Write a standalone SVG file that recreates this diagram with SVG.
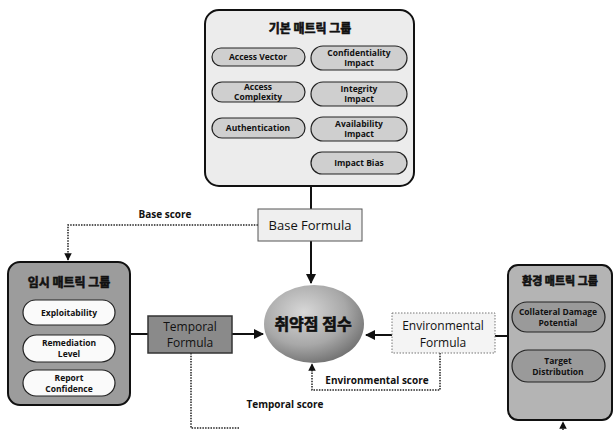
<svg xmlns="http://www.w3.org/2000/svg" width="614" height="430" viewBox="0 0 614 430">
<style>
.ko{font-family:"Noto Sans CJK KR","Noto Sans",sans-serif;font-weight:bold;fill:#111;stroke:#111;stroke-width:0.6}
.en{font-family:"Open Sans","Liberation Sans",sans-serif;fill:#111}
.pl{font-family:"Open Sans","Liberation Sans",sans-serif;font-weight:bold;font-size:8.5px;fill:#111;text-anchor:middle}
.grp{stroke:#111;stroke-width:2}
.pill{stroke:#222;stroke-width:1.2}
.solid{stroke:#111;stroke-width:2;fill:none}
.dot{stroke:#222;stroke-width:1.5;stroke-dasharray:1.5 1.2;fill:none}
</style>
<defs>
<marker id="ah" viewBox="0 0 10 10" refX="9" refY="5" markerWidth="5" markerHeight="5" orient="auto-start-reverse">
<path d="M0,0 L10,5 L0,10 z" fill="#111"/>
</marker>
<radialGradient id="eg" cx="0.4" cy="0.35" r="0.7">
<stop offset="0" stop-color="#d8d8d8"/>
<stop offset="0.6" stop-color="#a8a8a8"/>
<stop offset="1" stop-color="#6e6e6e"/>
</radialGradient>
</defs>

<g id="connectors">
<line class="solid" x1="311" y1="186" x2="311" y2="209"/>
<line class="solid" x1="311" y1="241" x2="311" y2="283" marker-end="url(#ah)"/>
<polyline class="dot" points="258,225 68,225 68,260" marker-end="url(#ah)"/>
<line class="solid" x1="130" y1="334" x2="148" y2="334"/>
<line class="solid" x1="232" y1="334" x2="263" y2="334" marker-end="url(#ah)"/>
<polyline class="dot" points="191,353 191,428 240,428"/>
<line class="solid" x1="392" y1="335" x2="366" y2="335" marker-end="url(#ah)"/>
<line class="solid" x1="495" y1="336" x2="508" y2="336"/>
<polyline class="dot" points="440,353 440,390 312,390 312,364" marker-end="url(#ah)"/>
<line class="dot" x1="563" y1="430" x2="563" y2="422" marker-end="url(#ah)"/>
</g>

<g id="base-group">
<rect x="205" y="10" width="209" height="176" rx="14" fill="#ececec" class="grp"/>
<text class="ko" x="310" y="33" font-size="12" text-anchor="middle">기본 매트릭 그룹</text>
<g id="access-vector"><rect class="pill" x="212" y="48" width="93" height="18" rx="9" fill="#cfcfcf"/><text class="pl" x="258" y="60">Access Vector</text></g>
<g id="access-complexity"><rect class="pill" x="212" y="82" width="93" height="20" rx="10" fill="#cfcfcf"/><text class="pl" x="258" y="90">Access</text><text class="pl" x="258" y="100">Complexity</text></g>
<g id="authentication"><rect class="pill" x="212" y="118" width="93" height="20" rx="10" fill="#cfcfcf"/><text class="pl" x="258" y="131">Authentication</text></g>
<g id="confidentiality"><rect class="pill" x="311" y="46" width="96" height="24" rx="12" fill="#cfcfcf"/><text class="pl" x="359" y="56">Confidentiality</text><text class="pl" x="359" y="66">Impact</text></g>
<g id="integrity"><rect class="pill" x="311" y="82" width="96" height="24" rx="12" fill="#cfcfcf"/><text class="pl" x="359" y="92">Integrity</text><text class="pl" x="359" y="102">Impact</text></g>
<g id="availability"><rect class="pill" x="311" y="117" width="96" height="24" rx="12" fill="#cfcfcf"/><text class="pl" x="359" y="127">Availability</text><text class="pl" x="359" y="137">Impact</text></g>
<g id="impact-bias"><rect class="pill" x="311" y="152" width="96" height="22" rx="11" fill="#cfcfcf"/><text class="pl" x="359" y="166">Impact Bias</text></g>
</g>

<g id="base-formula">
<rect x="258" y="209" width="104" height="32" fill="#efefef" stroke="#555" stroke-width="1"/>
<text class="en" x="310" y="230" font-size="13" text-anchor="middle">Base Formula</text>
</g>
<text class="en" x="165" y="218" font-size="10" font-weight="bold" text-anchor="middle">Base score</text>

<g id="temporal-group">
<rect x="8" y="262" width="122" height="143" rx="12" fill="#9c9c9c" class="grp" stroke-width="2.5"/>
<text class="ko" x="69" y="287" font-size="12" text-anchor="middle">임시 매트릭 그룹</text>
<g id="exploitability"><rect class="pill" x="23" y="300" width="92" height="25" rx="12.5" fill="#fafafa"/><text class="pl" x="69" y="316">Exploitability</text></g>
<g id="remediation"><rect class="pill" x="23" y="335" width="92" height="27" rx="13.5" fill="#fafafa"/><text class="pl" x="69" y="346">Remediation</text><text class="pl" x="69" y="357">Level</text></g>
<g id="report-confidence"><rect class="pill" x="23" y="370" width="92" height="26" rx="13" fill="#fafafa"/><text class="pl" x="69" y="381">Report</text><text class="pl" x="69" y="392">Confidence</text></g>
</g>

<g id="temporal-formula">
<rect x="148" y="316" width="84" height="37" fill="#8a8a8a" stroke="#333" stroke-width="1.5"/>
<text class="en" x="190" y="331" font-size="12" text-anchor="middle">Temporal</text>
<text class="en" x="190" y="347" font-size="12" text-anchor="middle">Formula</text>
</g>
<text class="en" x="285" y="408" font-size="10" font-weight="bold" text-anchor="middle">Temporal score</text>

<g id="score">
<ellipse cx="314" cy="324" rx="50" ry="39" fill="url(#eg)"/>
<text class="ko" x="313" y="330" font-size="16" text-anchor="middle" stroke-width="0.9">취약점 점수</text>
</g>

<g id="env-formula">
<rect x="392" y="313" width="103" height="40" fill="#f4f4f4" stroke="#777" stroke-width="1" stroke-dasharray="1.5 1.5"/>
<text class="en" x="443" y="330" font-size="12" text-anchor="middle">Environmental</text>
<text class="en" x="443" y="347" font-size="12" text-anchor="middle">Formula</text>
</g>
<text class="en" x="377" y="384" font-size="10" font-weight="bold" text-anchor="middle">Environmental score</text>

<g id="env-group">
<rect x="508" y="265" width="104" height="155" rx="10" fill="#b4b4b4" class="grp" stroke-width="2.5"/>
<text class="ko" x="560" y="285" font-size="11" text-anchor="middle">환경 매트릭 그룹</text>
<g id="collateral"><rect class="pill" x="512" y="302" width="93" height="30" rx="15" fill="#9a9a9a"/><text class="pl" x="558" y="315">Collateral Damage</text><text class="pl" x="558" y="326">Potential</text></g>
<g id="target"><rect class="pill" x="512" y="350" width="93" height="32" rx="16" fill="#9a9a9a"/><text class="pl" x="558" y="364">Target</text><text class="pl" x="558" y="375">Distribution</text></g>
</g>
</svg>
